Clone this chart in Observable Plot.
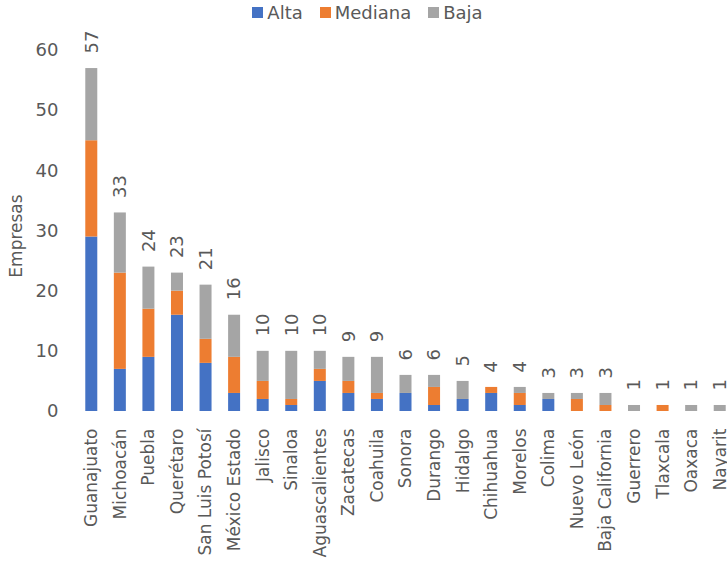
<!DOCTYPE html>
<html>
<head>
<meta charset="utf-8">
<script src="https://cdn.jsdelivr.net/npm/d3@7"></script>
<script src="https://cdn.jsdelivr.net/npm/@observablehq/plot@0.6"></script>
<style>
  html, body { margin: 0; padding: 0; background: #fff; overflow: hidden; }
  body { width: 727px; height: 561px; position: relative; font-family: "DejaVu Sans", sans-serif; }
  #legend { position: absolute; top: 2px; left: 0; width: 727px; display: flex; justify-content: center; font-size: 18px; color: #595959; z-index: 2; padding-left: 8px; box-sizing: border-box; }
  #legend .item { display: flex; align-items: center; margin-right: 17px; }
  #legend .item:last-child { margin-right: 0; }
  #legend .sw { width: 11px; height: 11px; margin-right: 4px; display: inline-block; }
  #chart { position: absolute; top: 0; left: 0; }
</style>
</head>
<body>
<div id="legend"></div>
<div id="chart"></div>
<script>
const states = ["Guanajuato","Michoacán","Puebla","Querétaro","San Luis Potosí","México Estado","Jalisco","Sinaloa","Aguascalientes","Zacatecas","Coahuila","Sonora","Durango","Hidalgo","Chihuahua","Morelos","Colima","Nuevo León","Baja California","Guerrero","Tlaxcala","Oaxaca","Nayarit"];
const alta    = [29, 7, 9, 16, 8, 3, 2, 1, 5, 3, 2, 3, 1, 2, 3, 1, 2, 0, 0, 0, 0, 0, 0];
const mediana = [16,16, 8,  4, 4, 6, 3, 1, 2, 2, 1, 0, 3, 0, 1, 2, 0, 2, 1, 0, 1, 0, 0];
const baja    = [12,10, 7,  3, 9, 7, 5, 8, 3, 4, 6, 3, 2, 3, 0, 1, 1, 1, 2, 1, 0, 1, 1];
const series = ["Alta", "Mediana", "Baja"];
const colors = ["#4472c4", "#ed7d31", "#a5a5a5"];
const yTicks = [0, 10, 20, 30, 40, 50, 60];

const values = [alta, mediana, baja];
const rows = [];
series.forEach((s, i) => states.forEach((st, j) => rows.push({state: st, serie: s, value: values[i][j]})));
const totals = states.map((st, j) => ({state: st, total: alta[j] + mediana[j] + baja[j]}));

// legend
const lg = document.getElementById("legend");
series.forEach((s, i) => {
  const it = document.createElement("span");
  it.className = "item";
  it.innerHTML = `<span class="sw" style="background:${colors[i]}"></span><span>${s}</span>`;
  lg.appendChild(it);
});

const W = 727;
const chart = Plot.plot({
  width: W,
  height: 561,
  marginTop: 50,
  marginBottom: 150,
  marginLeft: 77,
  marginRight: 0,
  style: {fontFamily: "DejaVu Sans, sans-serif", color: "#595959", overflow: "hidden", background: "white"},
  x: {domain: states, range: [77, 734], paddingInner: 0.58, paddingOuter: 0.29, round: false, label: null},
  y: {domain: [0, 60], label: null},
  color: {domain: series, range: colors},
  marks: [
    Plot.gridY(yTicks, {stroke: "#d9d9d9", strokeOpacity: 1, strokeWidth: 1, x1: 77, x2: W}),
    Plot.barY(rows, {x: "state", y: "value", fill: "serie", order: series}),
    Plot.axisY(yTicks, {tickSize: 0, tickPadding: 19, fontSize: 18, label: null, fill: "#595959"}),
    Plot.axisX({tickSize: 0, tickPadding: 17, tickRotate: -90, fontSize: 17, label: null, fill: "#595959"}),
    Plot.text(totals, {x: "state", y: "total", text: d => String(d.total), rotate: -90, textAnchor: "start", lineAnchor: "middle", dy: -15, fontSize: 18, fill: "#595959"}),
    Plot.text(["Empresas"], {frameAnchor: "left", textAnchor: "middle", dx: -61, dy: 5, rotate: -90, fontSize: 17, fill: "#595959"})
  ]
});
document.getElementById("chart").appendChild(chart);
</script>
</body>
</html>
